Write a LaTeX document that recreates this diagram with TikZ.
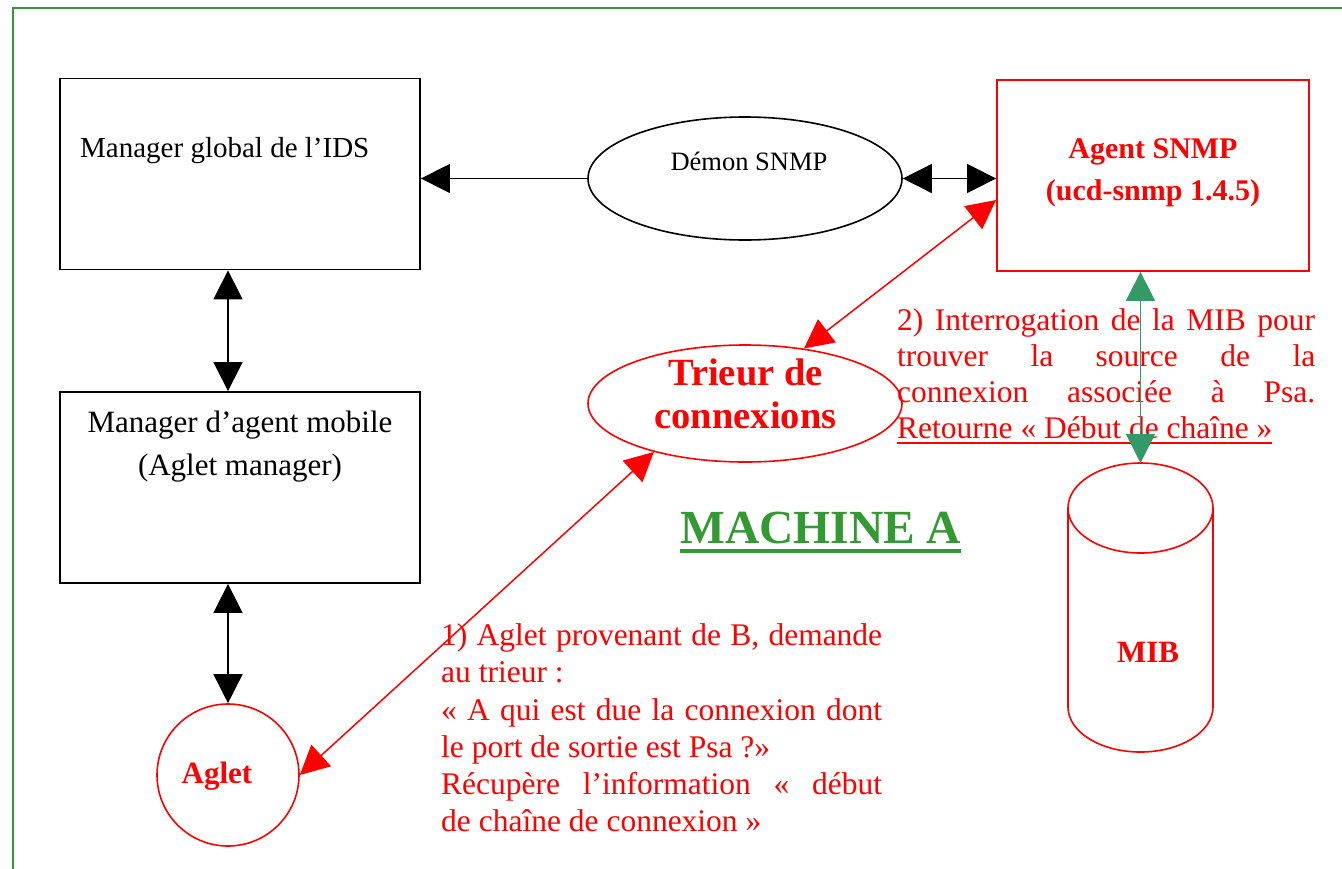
\documentclass[tikz,border=0pt]{standalone}
\usepackage{fontspec}
\setmainfont{Liberation Serif}
\usetikzlibrary{arrows.meta,calc,shapes.geometric}
\definecolor{frameg}{HTML}{339933}
\definecolor{arrg}{HTML}{339966}
\newcommand\myul[1]{\setbox0\hbox{#1}\rlap{\rule[-5.5pt]{\wd0}{1.8pt}}\box0}
\tikzset{
  blkbox/.style={draw, line width=1.8pt, minimum width=360pt, minimum height=191pt, inner sep=0pt},
  redbox/.style={draw=red, line width=1.8pt, minimum width=312pt, minimum height=191pt, inner sep=0pt},
  blkell/.style={ellipse, draw, line width=1.6pt, minimum width=314pt, minimum height=123pt, inner sep=0pt},
  redell/.style={ellipse, draw=red, line width=1.6pt, minimum width=314pt, minimum height=117pt, inner sep=0pt},
  redcirc/.style={circle, draw=red, line width=1.6pt, minimum size=142pt, inner sep=0pt},
  tip/.tip={Triangle[length=29pt,width=29pt]},
  blkone/.style={line width=1.5pt, -tip},
  blkdbl/.style={line width=1.5pt, tip-tip},
  reddbl/.style={red, line width=1.5pt, tip-tip},
  grndbl/.style={arrg, line width=1.6pt, tip-tip},
  lbl/.style={inner sep=0pt, anchor=base},
  redlbl/.style={inner sep=0pt, anchor=base, text=red, font=\bfseries\fontsize{31}{36}\selectfont},
}
\begin{document}
\begin{tikzpicture}[x=1pt,y=-1pt]
\useasboundingbox (0,0) rectangle (1342,868);
\clip (0,0) rectangle (1342,868);
\draw[frameg, line width=2.5pt] (13,8) rectangle (1400,900);

% boxes and shapes
\node[blkbox] (mg) at (240,174) {};
\node[blkbox] (ma) at (240,487.5) {};
\node[redbox] (agent) at (1153,175.5) {};
\node[blkell] (demon) at (745,178.5) {};
\node[redell] (trieur) at (745,403.5) {};
\node[redcirc] (aglet) at (228,775) {};

% MIB cylinder
\draw[red, line width=1.6pt] (1140.5,508) ellipse [x radius=72.5pt, y radius=45pt];
\draw[red, line width=1.6pt] (1068,508) -- (1068,707)
  arc[start angle=180, end angle=360, x radius=72.5pt, y radius=45pt] -- (1213,508);
\coordinate (mibtop) at (1140.5,463);

% texts
\node[lbl, anchor=base west, font=\fontsize{29}{34}\selectfont] (mgt) at (80,157) {Manager global de l’IDS};
\node[lbl] (mat) at (240,432) {\parbox[t]{360pt}{\centering\fontsize{31}{43}\selectfont Manager d’agent mobile\\(Aglet manager)\par}};
\node[lbl, text=red] (agt) at (1153,158) {\parbox[t]{312pt}{\centering\bfseries\fontsize{30}{42}\selectfont Agent SNMP\\(ucd-snmp 1.4.5)\par}};
\node[lbl, font=\fontsize{26.5}{30}\selectfont] (demt) at (749,170) {Démon SNMP};
\node[lbl, text=red] (trt) at (745.5,385) {\parbox[t]{314pt}{\centering\bfseries\fontsize{38.5}{43}\selectfont Trieur de\\connexions\par}};
\node[redlbl] (aglt) at (217,783) {Aglet};
\node[redlbl] (mibt) at (1148,662) {MIB};
\node[inner sep=0pt, anchor=base west, text=frameg, font=\bfseries\fontsize{47.5}{52}\selectfont] (mach) at (680,543) {MACHINE A};
\draw[frameg, line width=4pt] ([yshift=-8pt]mach.base west) -- ([yshift=-8pt]mach.base east);

\node[inner sep=0pt, anchor=base west, text=red] (q1) at (441,645.7) {\parbox[t]{441pt}{\fontsize{31.5}{37.2}\selectfont
\makebox[\linewidth][s]{1) Aglet provenant de B, demande}\\
au trieur :\\
\makebox[\linewidth][s]{« A qui est due la connexion dont}\\
le port de sortie est Psa ?»\\
\makebox[\linewidth][s]{Récupère l’information « début}\\
de chaîne de connexion »\par}};

\node[inner sep=0pt, anchor=base west, text=red] (q2) at (897,330.7) {\parbox[t]{418pt}{\fontsize{31.5}{35.8}\selectfont
\makebox[\linewidth][s]{2) Interrogation de la MIB pour}\\
\makebox[\linewidth][s]{trouver la source de la}\\
\makebox[\linewidth][s]{connexion associée à Psa.}\\
\myul{Retourne « Début de chaîne »}\par}};

% connectors
\draw[blkone] (demon.west) -- (demon.west -| mg.east);
\draw[blkdbl] (demon.east) -- (demon.east -| agent.west);
\draw[blkdbl] (aglet.north |- mg.south) -- (aglet.north |- ma.north);
\draw[blkdbl] (aglet.north |- ma.south) -- (aglet.north);
\draw[reddbl] (trieur.43) -- ($(agent.west)+(0,24.5)$);
\draw[reddbl] (aglet.east) -- (trieur.208);
\draw[grndbl] (mibtop |- agent.south) -- (mibtop);
\end{tikzpicture}
\end{document}
